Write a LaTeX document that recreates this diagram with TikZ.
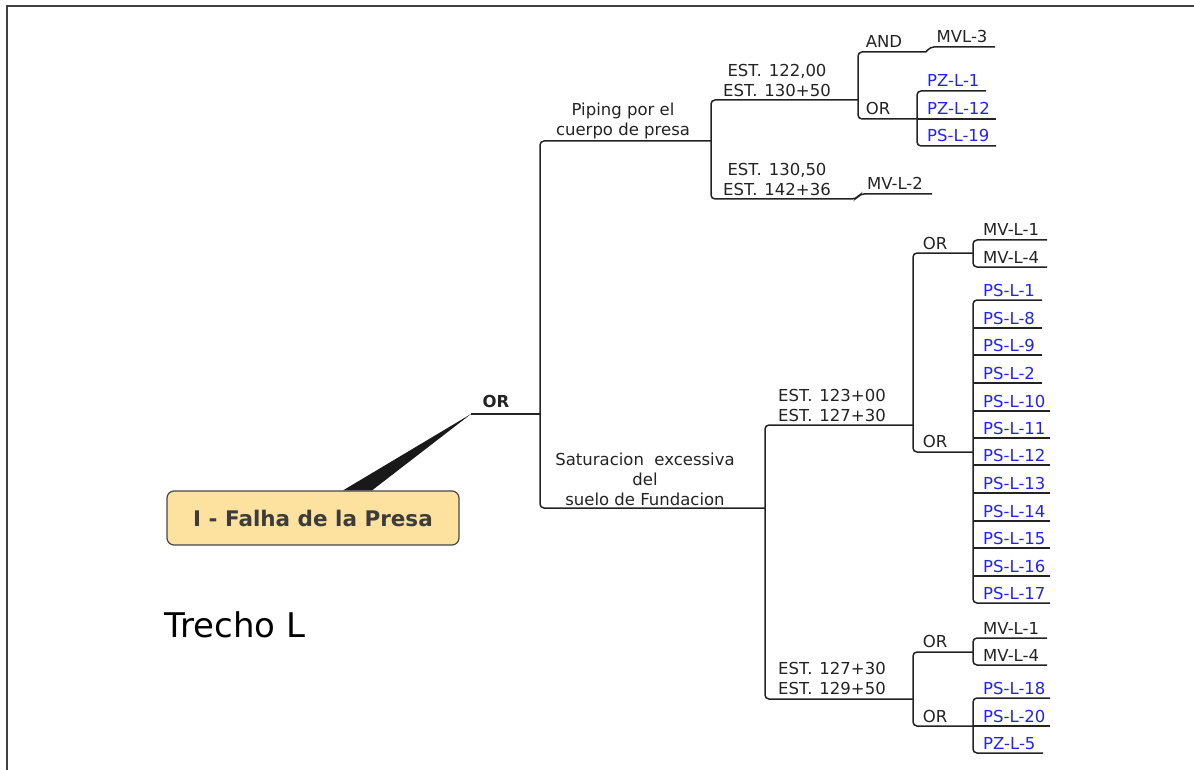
\documentclass[tikz,border=0pt]{standalone}
\usepackage{fontspec}
\setmainfont{DejaVu Sans}
\definecolor{linkblue}{RGB}{35,35,235}
\definecolor{rootfill}{RGB}{252,226,158}
\definecolor{rootdraw}{RGB}{70,70,70}
\definecolor{roottext}{RGB}{60,60,60}
\definecolor{ln}{RGB}{35,35,35}
\definecolor{txt}{RGB}{35,35,35}
\newcommand\estgap{\hspace{7pt}}
\tikzset{
  conn/.style={draw=ln, line width=1.5pt, rounded corners=4pt},
  lbl/.style={font=\fontsize{16.5}{20}\selectfont, text=txt, inner sep=0pt, align=center},
  boldlbl/.style={font=\bfseries\fontsize{16.5}{20}\selectfont, text=txt, inner sep=0pt},
  leaftext/.style={font=\fontsize{16.5}{20}\selectfont, inner sep=0pt, anchor=base west},
  blueleaf/.style={text=linkblue},
  blackleaf/.style={text=txt},
  rootbox/.style={draw=rootdraw, fill=rootfill, line width=1.2pt, rounded corners=7pt,
    minimum width=292pt, minimum height=54pt, inner sep=0pt,
    font=\bfseries\fontsize{21.5}{25}\selectfont, text=roottext},
}
% leaf with its own underline
\newcommand\leaf[6]{%
  \coordinate (#1a) at (#2,#3);
  \coordinate (#1b) at (#4,#3);
  \node[leaftext,#6] (#1) at (#2+10,#3-4) {#5};
  \draw[conn] (#1a) -- (#1b);
}
% leaf whose underline belongs to a bracket path
\newcommand\leafn[6]{%
  \coordinate (#1a) at (#2,#3);
  \coordinate (#1b) at (#4,#3);
  \node[leaftext,#6] (#1) at (#2+10,#3-4) {#5};
}
\begin{document}
\begin{tikzpicture}[x=1pt,y=-1pt]
\useasboundingbox (0,0) rectangle (1194,770);
% frame
\draw[black!75, line width=2pt] (7,771) -- (7,6) -- (1195,6);

% root
\node[rootbox] (root) at (313,518) {I - Falha de la Presa};
\coordinate (orj) at (471,414);
\coordinate (t1) at (540,414);
\fill[black!90] ([xshift=30pt]root.north) -- (orj) -- ([xshift=59pt]root.north) -- cycle;
\draw[conn] (orj) -- (t1);
\node[boldlbl] (or0) at (496,401) {OR};

\node[font=\fontsize{34}{40}\selectfont, text=black, inner sep=0pt] (trecho) at (235,625) {Trecho L};

% trunk
\coordinate (pipJ) at (711,141);
\coordinate (satJ) at (765,508);
\draw[conn] (pipJ) -| (t1) |- (satJ);
\node[lbl] (piping) at (623,121) {Piping por el\\cuerpo de presa};
\node[lbl] (sat) at (645,479) {Saturacion~~excessiva\\del\\suelo de Fundacion};

% ---------- top group
\coordinate (aJ) at (858,100);
\coordinate (bJ) at (856,199);
\leafn{mvl2}{860}{194}{932}{}{blackleaf}
\draw[conn] (aJ) -| (pipJ) |- (bJ) -- (mvl2a) -- (mvl2b);
\node[lbl] (e1) at (777,80) {EST.\estgap122,00\\EST.\estgap130+50};
\node[lbl] (e2) at (777,179) {EST.\estgap130,50\\EST.\estgap142+36};
\node[lbl] (mvl2t) at (895,183) {MV-L-2};

\coordinate (andJ) at (926,52);
\coordinate (orJ1) at (917,119);
\draw[conn] (andJ) -| (aJ) |- (orJ1);
\node[lbl] (andt) at (884,41) {AND};
\node[lbl] (ort) at (878,108) {OR};
\leafn{mvl3}{930}{47}{995}{}{blackleaf}
\draw[conn] (andJ) -- (mvl3a) -- (mvl3b);
\node[lbl] (mvl3t) at (962,36) {MVL-3};

\leafn{pz1}{917}{91}{986}{PZ-L-1}{blueleaf}
\leaf{pz12}{917}{119}{996}{PZ-L-12}{blueleaf}
\leafn{ps19}{917}{146}{996}{PS-L-19}{blueleaf}
\draw[conn] (pz1b) -| (orJ1) |- (ps19b);

% ---------- bottom group
\coordinate (e3J) at (913,425);
\coordinate (e4J) at (913,699);
\draw[conn] (e3J) -| (satJ) |- (e4J);
\node[lbl] (e3) at (832,405) {EST.\estgap123+00\\EST.\estgap127+30};
\node[lbl] (e4) at (832,678) {EST.\estgap127+30\\EST.\estgap129+50};

\coordinate (or1J) at (973,253);
\coordinate (or2J) at (973,452);
\draw[conn] (or1J) -| (e3J) |- (or2J);
\node[lbl] (or1t) at (935,243) {OR};
\node[lbl] (or2t) at (935,441) {OR};

\leafn{mva1}{973}{240}{1047}{MV-L-1}{blackleaf}
\leafn{mva4}{973}{267}{1047}{MV-L-4}{blackleaf}
\draw[conn] (mva1b) -| (or1J) |- (mva4b);

\leafn{ps1}{973}{300}{1042}{PS-L-1}{blueleaf}
\leaf{ps8}{973}{328}{1042}{PS-L-8}{blueleaf}
\leaf{ps9}{973}{355}{1042}{PS-L-9}{blueleaf}
\leaf{ps2}{973}{383}{1042}{PS-L-2}{blueleaf}
\leaf{ps10}{973}{411}{1050}{PS-L-10}{blueleaf}
\leaf{ps11}{973}{438}{1050}{PS-L-11}{blueleaf}
\leaf{ps12}{973}{465}{1050}{PS-L-12}{blueleaf}
\leaf{ps13}{973}{493}{1050}{PS-L-13}{blueleaf}
\leaf{ps14}{973}{521}{1050}{PS-L-14}{blueleaf}
\leaf{ps15}{973}{548}{1050}{PS-L-15}{blueleaf}
\leaf{ps16}{973}{576}{1050}{PS-L-16}{blueleaf}
\leafn{ps17}{973}{603}{1050}{PS-L-17}{blueleaf}
\draw[conn] (ps1b) -| (or2J) |- (ps17b);

\coordinate (or3J) at (973,652);
\coordinate (or4J) at (973,726);
\draw[conn] (or3J) -| (e4J) |- (or4J);
\node[lbl] (or3t) at (935,641) {OR};
\node[lbl] (or4t) at (935,716) {OR};

\leafn{mvb1}{973}{638}{1047}{MV-L-1}{blackleaf}
\leafn{mvb4}{973}{665}{1047}{MV-L-4}{blackleaf}
\draw[conn] (mvb1b) -| (or3J) |- (mvb4b);

\leafn{ps18}{973}{698}{1050}{PS-L-18}{blueleaf}
\leaf{ps20}{973}{726}{1050}{PS-L-20}{blueleaf}
\leafn{pz5}{973}{753}{1043}{PZ-L-5}{blueleaf}
\draw[conn] (ps18b) -| (or4J) |- (pz5b);
\end{tikzpicture}
\end{document}
